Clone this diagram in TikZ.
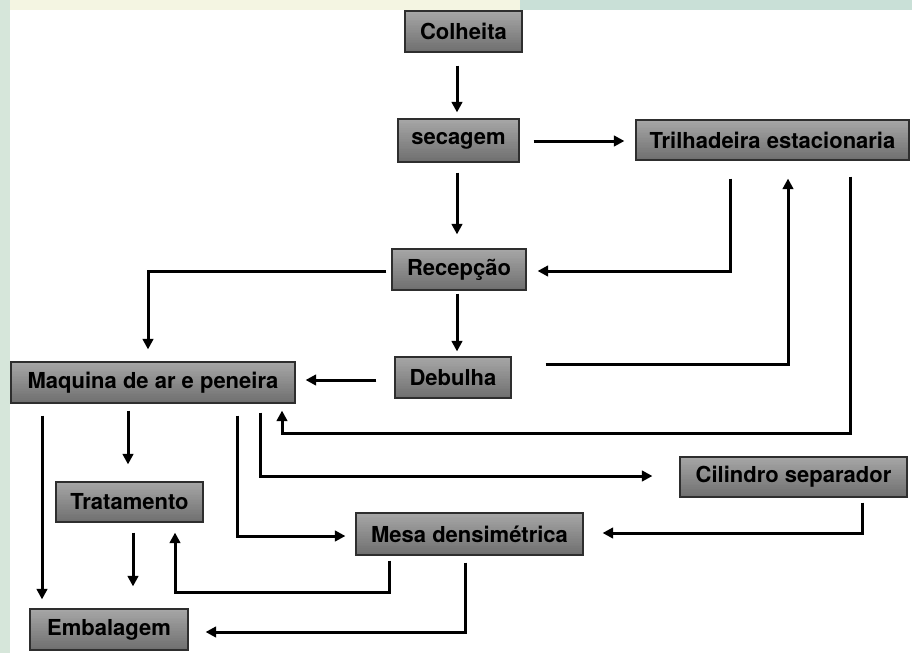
\documentclass[tikz,border=0pt]{standalone}
\usepackage{fontspec}
\setmainfont{TeX Gyre Heros}
\usetikzlibrary{arrows.meta,calc}
\definecolor{boxtop}{HTML}{A6A6A6}
\definecolor{boxbot}{HTML}{707070}
\definecolor{boxline}{HTML}{2E2E2E}
\definecolor{bgyel}{HTML}{F4F5E2}
\definecolor{bgteal}{HTML}{C9E0D7}
\tikzset{
  box/.style={draw=boxline, line width=1.2pt, fill=boxtop!50!boxbot,
    inner sep=0pt, text=black, font=\fontsize{22}{24}\selectfont\bfseries,
    path picture={
      \foreach \i in {0,...,23}{
        \pgfmathsetmacro\pc{100*\i/23}
        \fill[boxbot!\pc!boxtop]
          ($(path picture bounding box.north west)!{\i/24}!(path picture bounding box.south west)$)
          rectangle
          ($(path picture bounding box.north east)!{(\i+1.4)/24}!(path picture bounding box.south east)$);
      }
    }},
  arr/.style={line width=3pt, draw=black, line join=miter,
    -{Triangle[length=10.5pt,width=10.5pt]}},
}
\begin{document}
\begin{tikzpicture}[x=1pt,y=-1pt]
\useasboundingbox (0,0) rectangle (912,653);
% background
\begin{scope}
\fill[white] (0,0) rectangle (912,653);
\fill[bgyel] (0,0) rectangle (520,10);
\fill[bgteal] (520,0) rectangle (912,10);
\fill[bgteal!70!bgyel] (0,0) rectangle (10,653);
\end{scope}
% boxes
\node[box, minimum width=117pt, minimum height=41pt] (col) at (463.5,31.5) {Colheita};
\node[box, minimum width=121pt, minimum height=43pt] (sec) at (458.5,140.5) {secagem};
\node[box, minimum width=273pt, minimum height=40pt] (tri) at (772.5,140) {Trilhadeira estacionaria};
\node[box, minimum width=134pt, minimum height=41pt] (rec) at (459,269.5) {Recepção};
\node[box, minimum width=116pt, minimum height=41pt] (deb) at (453,377.5) {Debulha};
\node[box, minimum width=284pt, minimum height=41pt] (maq) at (153,382.5) {Maquina de ar e peneira};
\node[box, minimum width=227pt, minimum height=40pt] (cil) at (793.5,477) {Cilindro separador};
\node[box, minimum width=147pt, minimum height=40pt] (tra) at (129.5,502) {Tratamento};
\node[box, minimum width=227pt, minimum height=42pt] (mes) at (469.5,534) {Mesa densimétrica};
\node[box, minimum width=158pt, minimum height=41pt] (emb) at (109,629.5) {Embalagem};
% guide coordinates
\coordinate (x42) at (42,0);
\coordinate (x128) at (128,0);
\coordinate (x133) at (133,0);
\coordinate (x148) at (148,0);
\coordinate (x175) at (175,0);
\coordinate (x237) at (237,0);
\coordinate (x260) at (260,0);
\coordinate (x282) at (282,0);
\coordinate (x389) at (389,0);
\coordinate (x457) at (457,0);
\coordinate (x465) at (465,0);
\coordinate (x730) at (730,0);
\coordinate (x788) at (788,0);
\coordinate (x850) at (850,0);
\coordinate (x862) at (862,0);
\coordinate (y141) at (0,141);
\coordinate (y271) at (0,271);
\coordinate (y364) at (0,364);
\coordinate (y380) at (0,380);
\coordinate (y433) at (0,433);
\coordinate (y476) at (0,476);
\coordinate (y533) at (0,533);
\coordinate (y536) at (0,536);
\coordinate (y592) at (0,592);
\coordinate (y632) at (0,632);
% connectors
\draw[arr, shorten <=13pt, shorten >=6pt] (col.south -| x457) -- (sec.north -| x457);
\draw[arr, shorten <=14pt, shorten >=11pt] (sec.east |- y141) -- (tri.west |- y141);
\draw[arr, shorten <=10pt, shorten >=14pt] (sec.south -| x457) -- (rec.north -| x457);
\draw[arr, shorten <=18pt, shorten >=11pt] (tri.south -| x730) -- (x730 |- y271) -- (rec.east |- y271);
\draw[arr, shorten <=5pt, shorten >=12pt] (rec.west |- y271) -- (x148 |- y271) -- (maq.north -| x148);
\draw[arr, shorten <=3pt, shorten >=5pt] (rec.south -| x457) -- (deb.north -| x457);
\draw[arr, shorten <=18pt, shorten >=10pt] (deb.west |- y380) -- (maq.east |- y380);
\draw[arr, shorten <=34pt, shorten >=18pt] (deb.east |- y364) -- (x788 |- y364) -- (tri.south -| x788);
\draw[arr, shorten <=16pt, shorten >=7pt] (tri.south -| x850) -- (x850 |- y433) -- (x282 |- y433) -- (maq.south -| x282);
\draw[arr, shorten <=12pt, shorten >=9pt] (maq.south -| x42) -- (emb.north -| x42);
\draw[arr, shorten <=7pt, shorten >=17pt] (maq.south -| x128) -- (tra.north -| x128);
\draw[arr, shorten <=12pt, shorten >=10pt] (maq.south -| x237) -- (x237 |- y536) -- (mes.west |- y536);
\draw[arr, shorten <=9pt, shorten >=27pt] (maq.south -| x260) -- (x260 |- y476) -- (cil.west |- y476);
\draw[arr, shorten <=5pt, shorten >=19pt] (cil.south -| x862) -- (x862 |- y533) -- (mes.east |- y533);
\draw[arr, shorten <=10pt, shorten >=22pt] (tra.south -| x133) -- (emb.north -| x133);
\draw[arr, shorten <=5pt, shorten >=10pt] (mes.south -| x389) -- (x389 |- y592) -- (x175 |- y592) -- (tra.south -| x175);
\draw[arr, shorten <=7pt, shorten >=17pt] (mes.south -| x465) -- (x465 |- y632) -- (emb.east |- y632);
\end{tikzpicture}
\end{document}
